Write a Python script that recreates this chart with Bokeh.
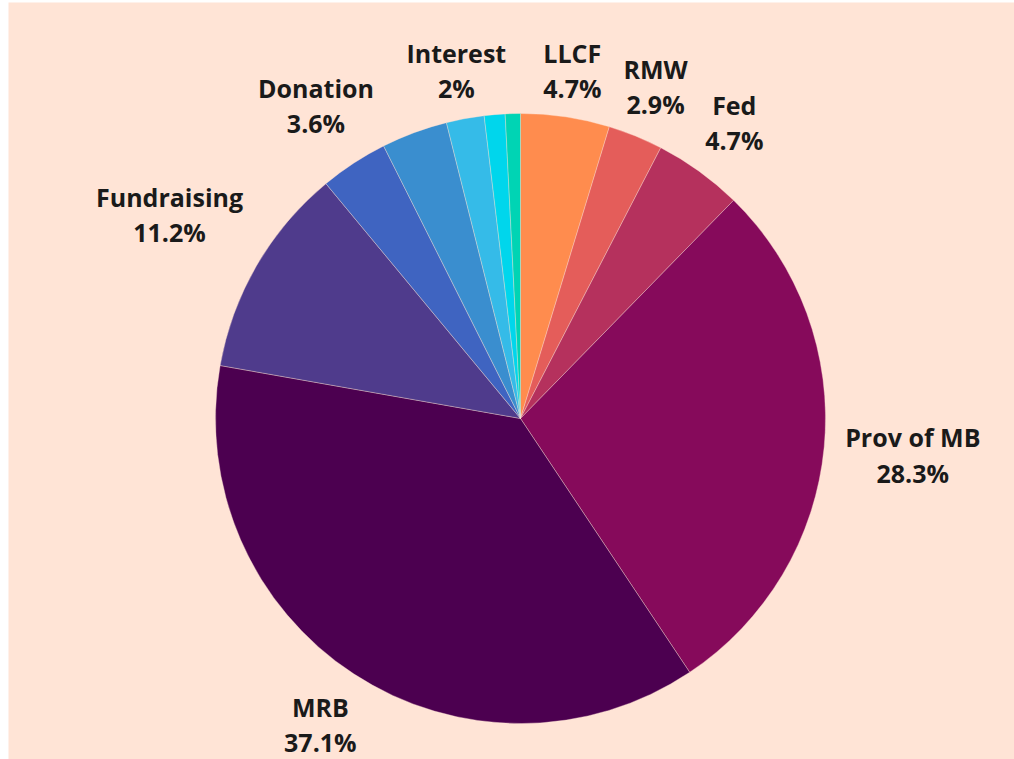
import math
from bokeh.plotting import figure
from bokeh.models import ColumnDataSource, Range1d
from bokeh.core.properties import value
from bokeh.embed import file_html
from bokeh.resources import INLINE

# ---- data (clockwise from 12 o'clock) ----
categories = ["LLCF", "RMW", "Fed", "Prov of MB", "MRB", "Fundraising",
              "Donation", "Other", "Interest", "Misc A", "Misc B"]
shares = [4.7, 2.9, 4.7, 28.3, 37.1, 11.2, 3.6, 3.5, 2.0, 1.1, 0.8]
label_text = ["LLCF\n4.7%", "RMW\n2.9%", "Fed\n4.7%", "Prov of MB\n28.3%",
              "MRB\n37.1%", "Fundraising\n11.2%", "Donation\n3.6%", "",
              "Interest\n2%", "", ""]

# ---- styles / layout ----
colors = ["#FF8C4E", "#E45D5A", "#B5315D", "#860A5B", "#4C0050", "#4F3B8C",
          "#3F64C1", "#3A8ECF", "#35BBE8", "#00D6EC", "#00D4B4"]
label_radius = [352, 358, 365, 394, 366, 406, 374, 0, 354, 0, 0]
BG = "#FFE4D6"
W, H = 1014, 759
LEFT, TOP = 8, 2
FW, FH = W - LEFT, H - TOP
CX, CY = 512, FH - 416
R = 305

total = sum(shares)
starts, ends, lx, ly, ltxt = [], [], [], [], []
cum = 0.0
for s, t, lr in zip(shares, label_text, label_radius):
    a0 = math.pi / 2 - cum / total * 2 * math.pi
    cum += s
    a1 = math.pi / 2 - cum / total * 2 * math.pi
    starts.append(a0)
    ends.append(a1)
    if t:
        mid = (a0 + a1) / 2
        lx.append(CX + lr * math.cos(mid))
        ly.append(CY + lr * math.sin(mid))
        ltxt.append(t)

src = ColumnDataSource(dict(start=starts, end=ends, color=colors, cat=categories))
lsrc = ColumnDataSource(dict(x=lx, y=ly, text=ltxt))

p = figure(width=W, height=H, output_backend="svg", toolbar_location=None,
           x_range=Range1d(0, FW), y_range=Range1d(0, FH),
           min_border_left=LEFT, min_border_top=TOP, min_border_right=0,
           min_border_bottom=0,
           background_fill_color=BG, border_fill_color="white")
p.axis.visible = False
p.grid.visible = False
p.outline_line_color = None

p.wedge(x=CX, y=CY, radius=R, start_angle="start", end_angle="end",
        direction="clock", fill_color="color", line_color=BG, line_width=0.6,
        line_alpha=0.6, source=src)

p.text(x="x", y="y", text="text", source=lsrc, text_align="center",
       text_baseline="middle", text_font=value("Open Sans"), text_font_style="bold",
       text_font_size="25px", text_color="#1A1A1A", text_line_height=1.03)

open("out.html", "w").write(file_html(p, INLINE))
